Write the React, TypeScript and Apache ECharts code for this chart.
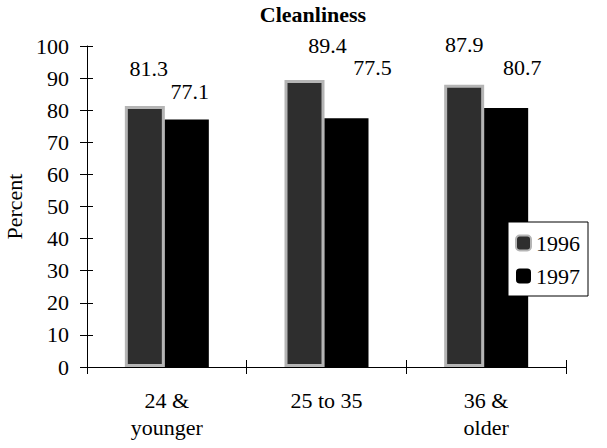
import React, { useEffect, useRef } from "react";
import * as echarts from "echarts";

const categories = ["24 &\nyounger", "25 to 35", "36 &\nolder"];
const values1996 = [81.3, 89.4, 87.9];
const values1997 = [77.1, 77.5, 80.7];
const yTicks = [0, 10, 20, 30, 40, 50, 60, 70, 80, 90, 100];

// label offsets (styling only)
const labelShift1996 = [[4, 1], [23, 4], [0, -1]];
const labelShift1997 = [[3, 11], [26, -12], [16, -1]];

const FONT = "'Liberation Serif', 'Times New Roman', Times, serif";

export default function App() {
  const ref = useRef<HTMLDivElement>(null);
  useEffect(() => {
    const chart = echarts.init(ref.current!, null, { renderer: "svg" });
    const labelBase = {
      show: true,
      position: "top",
      distance: 28,
      fontFamily: FONT,
      fontSize: 22,
      color: "#000",
    };
    chart.setOption({
      animation: false,
      backgroundColor: "#ffffff",
      textStyle: { fontFamily: FONT },
      title: {
        text: "Cleanliness",
        left: 308,
        top: -2,
        textAlign: "center",
        textStyle: { fontFamily: FONT, fontWeight: "bold", fontSize: 22, color: "#000" },
      },
      legend: {
        data: ["1996", "1997"],
        orient: "vertical",
        left: 508,
        top: 222,
        itemWidth: 15,
        itemHeight: 15,
        itemGap: 11,
        padding: [10, 8, 9, 7],
        backgroundColor: "#fff",
        borderColor: "#000",
        borderWidth: 1,
        textStyle: { fontFamily: FONT, fontSize: 22, color: "#000" },
      },
      grid: {
        left: 87,
        right: 41,
        top: 46,
        bottom: 81,
        containLabel: false,
        outerBoundsMode: "none",
      },
      xAxis: [
        {
          type: "category",
          data: categories,
          axisLine: { lineStyle: { color: "#000", width: 1 } },
          axisTick: { show: true, length: 7, lineStyle: { color: "#000" } },
          axisLabel: {
            fontFamily: FONT,
            fontSize: 22,
            color: "#000",
            margin: 20,
            lineHeight: 27,
          },
        },
        {
          type: "category",
          data: categories,
          position: "bottom",
          axisLine: { show: false },
          axisTick: { show: true, inside: true, length: 7, lineStyle: { color: "#000" } },
          axisLabel: { show: false },
        },
      ],
      yAxis: [
        {
          type: "value",
          min: 0,
          max: 100,
          interval: 10,
          name: "Percent",
          nameLocation: "middle",
          nameGap: 59,
          nameTextStyle: { fontFamily: FONT, fontSize: 22, color: "#000" },
          axisLine: { show: true, lineStyle: { color: "#000", width: 1 } },
          axisTick: { show: true, length: 7, lineStyle: { color: "#000" } },
          splitLine: { show: false },
          axisLabel: {
            fontFamily: FONT,
            fontSize: 22,
            color: "#000",
            margin: 18,
            formatter: (v: number) => (yTicks.includes(v) ? String(v) : ""),
          },
        },
        {
          type: "value",
          min: 0,
          max: 100,
          interval: 10,
          position: "left",
          axisLine: { show: false },
          axisTick: { show: true, inside: true, length: 6, lineStyle: { color: "#000" } },
          splitLine: { show: false },
          axisLabel: { show: false },
        },
      ],
      series: [
        {
          name: "1996",
          type: "bar",
          data: values1996.map((v, i) => ({
            value: v,
            label: { offset: labelShift1996[i] },
          })),
          barWidth: 40,
          barGap: "0%",
          itemStyle: { color: "#2e2e2e", borderColor: "#b5b5b5", borderWidth: 3 },
          label: labelBase,
        },
        {
          name: "1997",
          type: "bar",
          data: values1997.map((v, i) => ({
            value: v,
            label: { offset: labelShift1997[i] },
          })),
          barWidth: 44,
          itemStyle: { color: "#000" },
          label: labelBase,
        },
      ],
    });
    return () => chart.dispose();
  }, []);
  return (
    <div
      ref={ref}
      style={{ position: "absolute", left: 0, top: 0, width: 607, height: 448 }}
    />
  );
}
